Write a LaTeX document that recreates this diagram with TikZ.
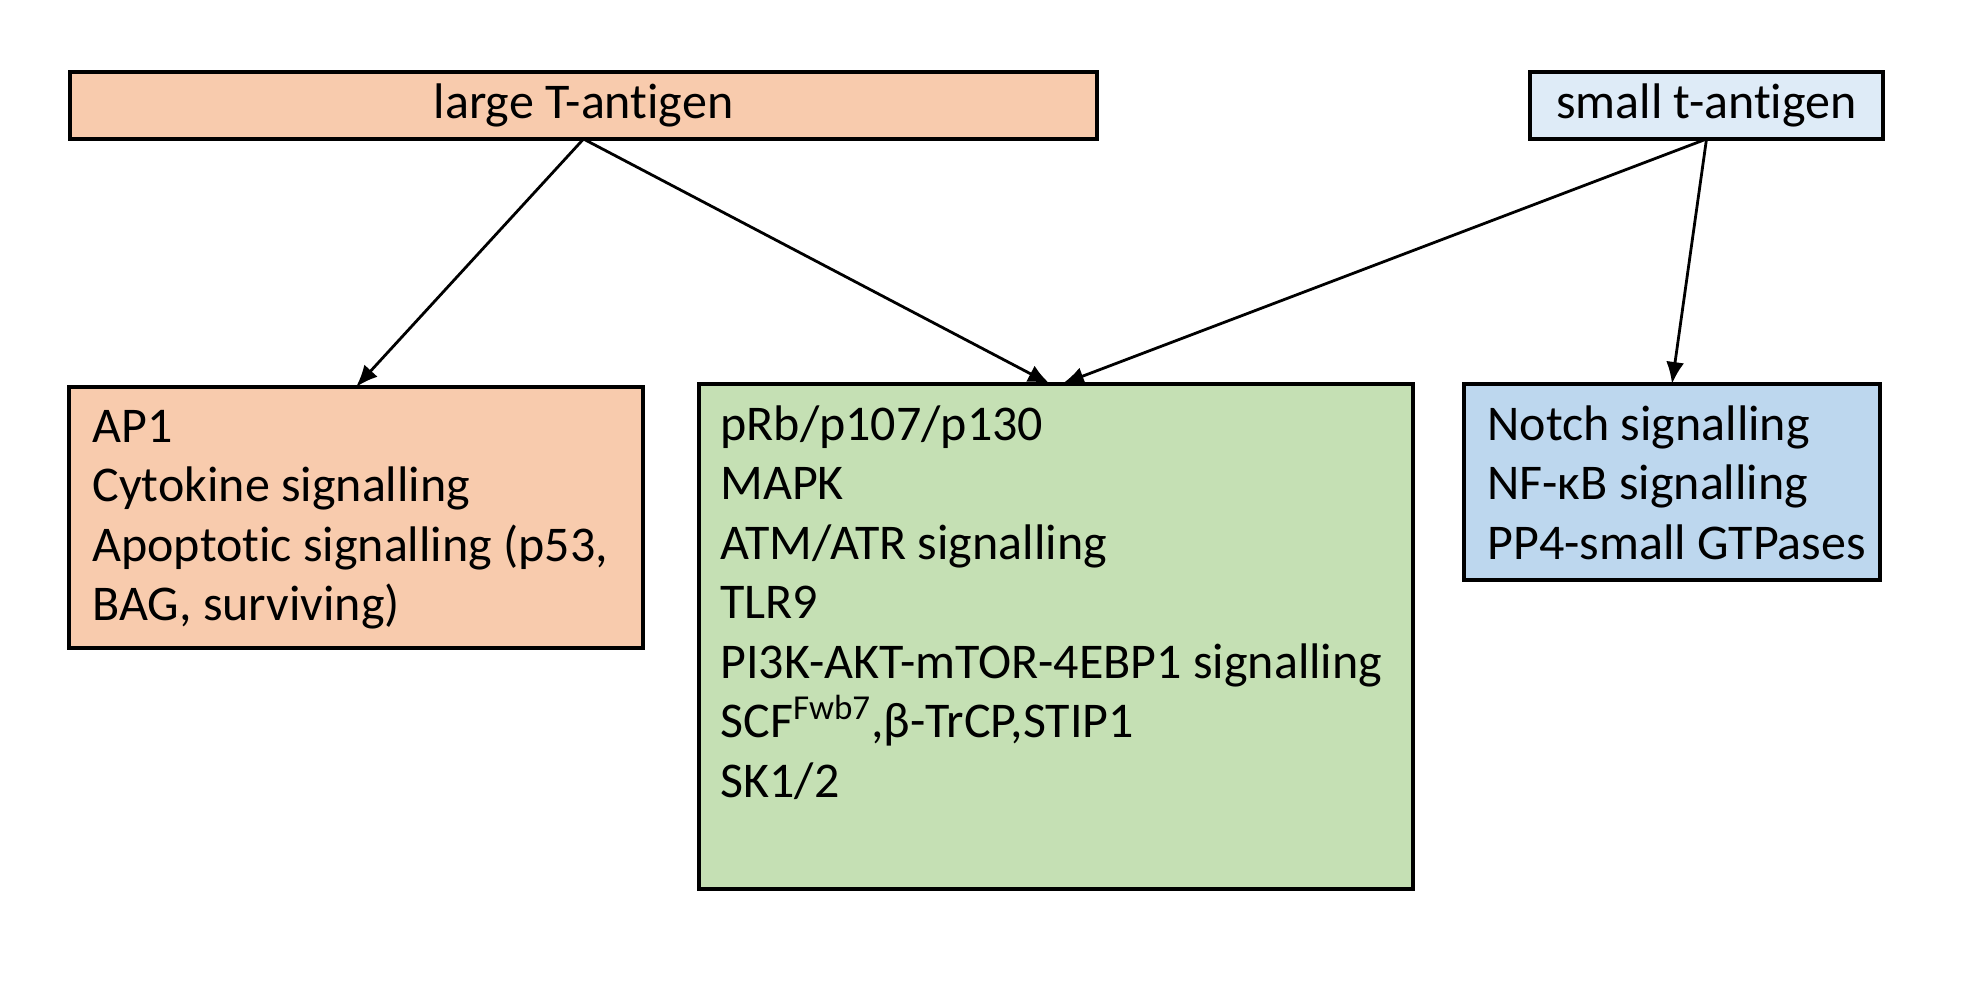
\documentclass[tikz,border=0pt]{standalone}
\usepackage{fontspec}
\setmainfont{Carlito}[Ligatures=NoCommon]
\usetikzlibrary{arrows.meta}
\definecolor{peach}{HTML}{F8CBAD}
\definecolor{paleblue}{HTML}{DEEBF7}
\definecolor{midblue}{HTML}{BDD7EE}
\definecolor{sage}{HTML}{C5E0B4}

\begin{document}
\begin{tikzpicture}[x=0.5pt,y=-0.5pt,
    box/.style={draw,line width=2pt,inner sep=0,outer sep=0,font=\fontsize{25}{30}\selectfont},
    item/.style={font=\fontsize{25}{30}\selectfont,inner sep=0,anchor=base west},
    link/.style={line width=1.4pt,-{Latex[length=11pt,width=9pt]}}]
  \useasboundingbox (0,0) rectangle (1969,980);
  \node[box,fill=peach,minimum width=513.5pt,minimum height=33.5pt] (lt) at (583.5,105.5) {large T-antigen};
  \node[box,fill=paleblue,minimum width=176.5pt,minimum height=33.5pt] (st) at (1706.5,105.5) {small t-antigen};
  \node[box,fill=peach,minimum width=287pt,minimum height=130.5pt] (ap) at (356,517.5) {};
  \node[box,fill=sage,minimum width=357pt,minimum height=252.5pt] (gr) at (1056,636.5) {};
  \node[box,fill=midblue,minimum width=208pt,minimum height=98pt] (bl) at (1672,482) {};
  \foreach \t [count=\i] in {AP1,Cytokine signalling,{Apoptotic signalling (p53,},{BAG, surviving)}}
    \node[item] (ap\i) at (92,{442+59.5*(\i-1)}) {\t};
  \foreach \t [count=\i] in {pRb/p107/p130,MAPK,ATM/ATR signalling,TLR9,PI3K-AKT-mTOR-4EBP1 signalling,{SCF\textsuperscript{Fwb7},β-TrCP,STIP1},SK1/2}
    \node[item] (gr\i) at (720,{440+59.5*(\i-1)}) {\t};
  \foreach \t [count=\i] in {Notch signalling,NF-κB signalling,PP4-small GTPases}
    \node[item] (bl\i) at (1487,{440+59.5*(\i-1)}) {\t};
  \draw[link] (lt.south) -- (ap.north);
  \draw[link] (lt.south) -- ([xshift=-3pt]gr.north);
  \draw[link] (st.south) -- ([xshift=3pt]gr.north);
  \draw[link] (st.south) -- (bl.north);
\end{tikzpicture}
\end{document}
